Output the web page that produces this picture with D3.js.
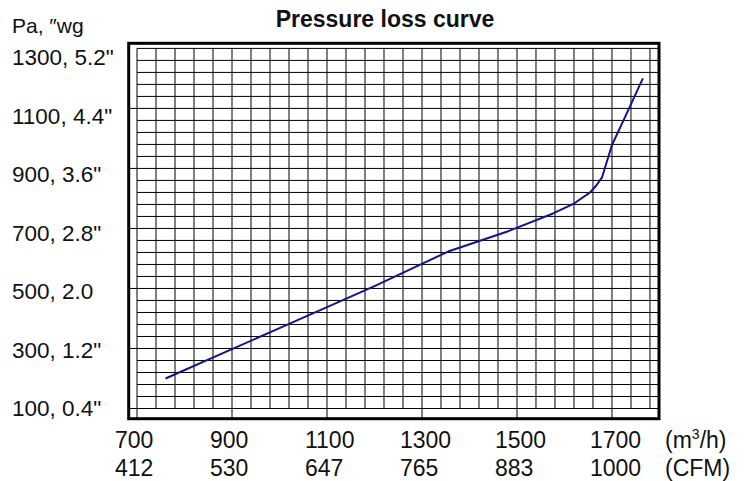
<!DOCTYPE html>
<html>
<head>
<meta charset="utf-8">
<script src="https://cdn.jsdelivr.net/npm/d3@7"></script>
<style>
  body { margin: 0; background: #fff; }
  text { font-family: "Liberation Sans", Arial, sans-serif; fill: #111; }
</style>
</head>
<body>
<svg width="747" height="481"></svg>
<script>
// data
const flowM3h = [760, 1000, 1200, 1355, 1480, 1576, 1620, 1654, 1667, 1679, 1700, 1736, 1765];
const lossPa  = [200, 368, 508, 623, 690, 750, 783, 820, 843, 870, 978, 1100, 1200];

const xTicks = [700, 900, 1100, 1300, 1500, 1700];
const xTicksCfm = ["412", "530", "647", "765", "883", "1000"];
const yTicks = [1300, 1100, 900, 700, 500, 300, 100];
const yTicksWg = ["5.2\"", "4.4\"", "3.6\"", "2.8\"", "2.0", "1.2\"", "0.4\""];

const svg = d3.select("svg");

const x = d3.scaleLinear().domain([682.5, 1799]).range([128.7, 659]);
const y = d3.scaleLinear().domain([66, 1317]).range([418.7, 43.3]);
// label placement follows the printed sheet, slightly off the grid
const yLab = d3.scaleLinear().domain([100, 1300]).range([416, 65]);

const grid = svg.append("g").attr("stroke", "#000").attr("stroke-width", 1);

// vertical grid lines every 40 m3/h, majors run down to the frame
const vLines = d3.range(700, 1800, 40);
grid.selectAll("line.v")
    .data(vLines)
    .enter()
    .append("line")
    .attr("x1", d => x(d))
    .attr("x2", d => x(d))
    .attr("y1", y(1300))
    .attr("y2", d => xTicks.includes(d) ? y(66) : y(100));

// horizontal grid lines every 40 Pa, majors run left to the frame
const hLines = d3.range(100, 1301, 40);
grid.selectAll("line.h")
    .data(hLines)
    .enter()
    .append("line")
    .attr("y1", d => y(d))
    .attr("y2", d => y(d))
    .attr("x1", d => (yTicks.includes(d) && d !== 1300) ? x(682.5) : x(700))
    .attr("x2", x(1799));

// frame
svg.append("rect")
    .attr("x", x(682.5))
    .attr("y", y(1317))
    .attr("width", x(1799) - x(682.5))
    .attr("height", y(66) - y(1317))
    .attr("fill", "none")
    .attr("stroke", "#000")
    .attr("stroke-width", 3);

// curve
const line = d3.line()
    .x(d => x(d[0]))
    .y(d => y(d[1]));

svg.append("path")
    .datum(flowM3h.map((f, i) => [f, lossPa[i]]))
    .attr("d", line)
    .attr("fill", "none")
    .attr("stroke", "#14148c")
    .attr("stroke-width", 2)
    .attr("stroke-linejoin", "round");

// title
svg.append("text")
    .attr("x", 385)
    .attr("y", 27)
    .attr("text-anchor", "middle")
    .attr("font-size", 23)
    .attr("font-weight", "bold")
    .text("Pressure loss curve");

// y axis labels
svg.append("text")
    .attr("x", 12)
    .attr("y", 33)
    .attr("font-size", 21)
    .text("Pa, \u2033wg");

svg.append("g")
    .selectAll("text")
    .data(yTicks)
    .enter()
    .append("text")
    .attr("x", 12)
    .attr("y", d => yLab(d))
    .attr("font-size", 22.5)
    .text((d, i) => d + ", " + yTicksWg[i]);

// x axis labels, two rows
const xl = svg.append("g").attr("font-size", 23);
xl.selectAll("text.m3")
    .data(xTicks)
    .enter()
    .append("text")
    .attr("x", d => x(d) - 22)
    .attr("y", 448)
    .text(d => d);

xl.selectAll("text.cfm")
    .data(xTicksCfm)
    .enter()
    .append("text")
    .attr("x", (d, i) => x(xTicks[i]) - 22)
    .attr("y", 475.5)
    .text(d => d);

const unit = xl.append("text").attr("x", 665).attr("y", 448);
unit.append("tspan").text("(m");
unit.append("tspan").attr("font-size", 14).attr("dy", -9).text("3");
unit.append("tspan").attr("dy", 9).text("/h)");

xl.append("text").attr("x", 665).attr("y", 475.5).text("(CFM)");
</script>
</body>
</html>
